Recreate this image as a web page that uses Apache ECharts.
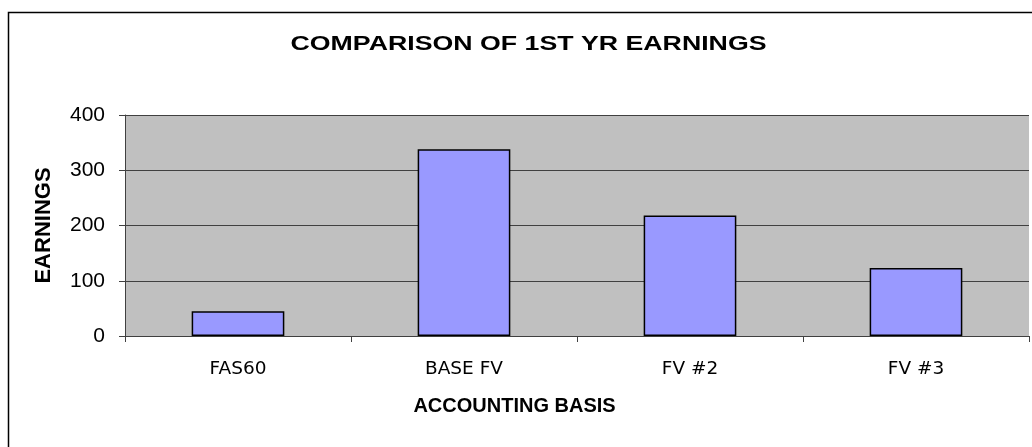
<!DOCTYPE html>
<html><head><meta charset="utf-8">
<script src="https://cdn.jsdelivr.net/npm/echarts@6/dist/echarts.min.js"></script>
<style>html,body{margin:0;padding:0;background:#fff}#c{width:1032px;height:447px}</style>
</head><body><div id="c"></div>
<script>
const categories = ['FAS60', 'BASE FV', 'FV #2', 'FV #3'];
const earnings = [45, 338, 218, 123];
const yTicks = [0, 100, 200, 300, 400];
const titleText = 'COMPARISON OF 1ST YR EARNINGS';
const xAxisTitle = 'ACCOUNTING BASIS';
const yAxisTitle = 'EARNINGS';

const FONT = 'Liberation Sans, Arial, sans-serif';
const chart = echarts.init(document.getElementById('c'));
chart.setOption({
  animation: false,
  backgroundColor: '#fff',
  graphic: [{
    type: 'rect', left: 6, top: 10, z: -1, silent: true,
    shape: { width: 1040, height: 460 },
    style: { fill: 'none', stroke: '#000', lineWidth: 1.5 }
  }, {
    type: 'text', x: 528.5, y: 45, scaleX: 1.37, silent: true,
    style: { text: titleText, fill: '#000', font: 'bold 19.5px ' + FONT, align: 'center', verticalAlign: 'middle' }
  }, {
    type: 'text', x: 514.5, y: 406, silent: true,
    style: { text: xAxisTitle, fill: '#000', font: 'bold 20px ' + FONT, align: 'center', verticalAlign: 'middle' }
  }],
  grid: { left: 125, right: 3, top: 115, bottom: 111, show: true, backgroundColor: '#C0C0C0', borderWidth: 0 },
  xAxis: {
    type: 'category', data: categories,
    axisLine: { lineStyle: { color: '#404040', width: 1 } },
    axisTick: { show: true, length: 6, lineStyle: { color: '#404040' } },
    axisLabel: { fontFamily: 'DejaVu Sans, sans-serif', fontSize: 18.5, color: '#000', margin: 24 }
  },
  yAxis: {
    type: 'value', min: yTicks[0], max: yTicks[yTicks.length - 1], interval: 100,
    name: yAxisTitle, nameLocation: 'middle', nameGap: 70, nameRotate: 90,
    nameTextStyle: { fontFamily: FONT, fontWeight: 'bold', fontSize: 22, color: '#000' },
    axisLine: { show: true, lineStyle: { color: '#404040', width: 1 } },
    axisTick: { show: true, length: 6, lineStyle: { color: '#404040' } },
    axisLabel: { fontFamily: FONT, fontSize: 21, color: '#000', margin: 20 },
    splitLine: { lineStyle: { color: '#404040', width: 1 } }
  },
  series: [{
    type: 'bar', data: earnings, barWidth: '41%',
    itemStyle: { color: '#9999FF', borderColor: '#000', borderWidth: 1.5 }
  }]
});
</script></body></html>
